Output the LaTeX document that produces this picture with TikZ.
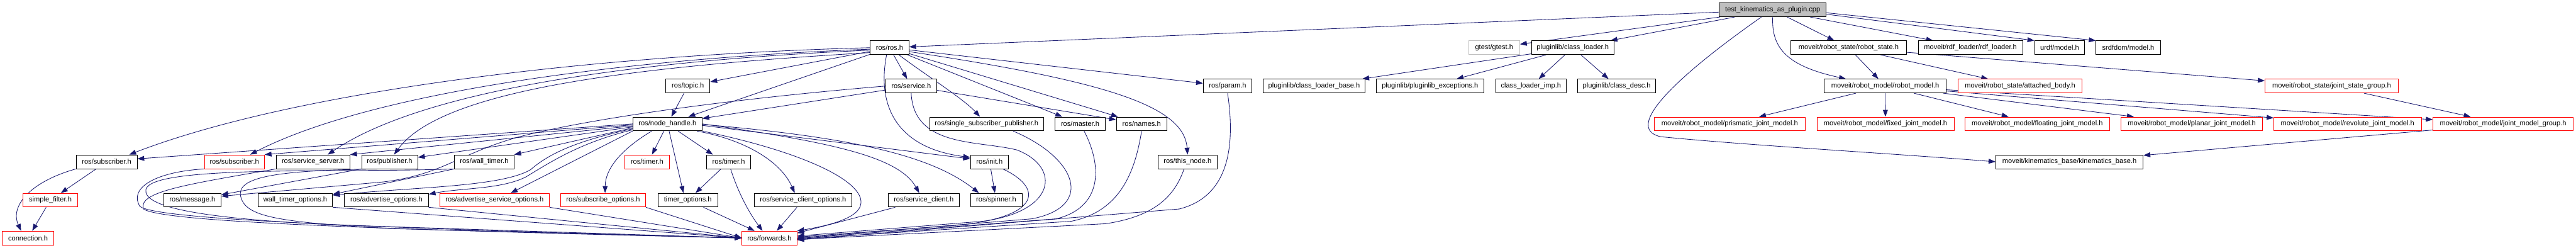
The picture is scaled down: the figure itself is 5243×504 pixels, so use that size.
\documentclass[tikz,border=0pt]{standalone}
\usepackage{fontspec}
\setmainfont{Liberation Sans}
\usepackage{tikz}
\usetikzlibrary{arrows.meta,backgrounds}
\definecolor{edgeblue}{HTML}{191970}
\definecolor{brokenred}{HTML}{FF0000}
\definecolor{rootgrey}{HTML}{BFBFBF}

\begin{document}
\begin{tikzpicture}[x=1pt,y=-1pt,font=\fontsize{14.2}{16}\selectfont,
  hfile/.style={draw=black,line width=1.1pt,fill=white,minimum height=28pt,inner sep=0pt},
  trunc/.style={hfile,draw=brokenred},
  dep/.style={draw=edgeblue,line width=1.1pt,-{Triangle[length=14pt,width=10pt]}}]
\useasboundingbox (0,0) rectangle (5243,504);
\node[hfile,fill=rootgrey,minimum width=218pt] (test) at (3608,20) {test\_kinematics\_as\_plugin.cpp};
\node[hfile,minimum width=79pt] (ros) at (1810.5,97) {ros/ros.h};
\node[hfile,draw=rootgrey,minimum width=104pt] (gtest) at (3041,97) {gtest/gtest.h};
\node[hfile,minimum width=168pt] (classloader) at (3201,97) {pluginlib/class\_loader.h};
\node[hfile,minimum width=235pt] (robotstate) at (3762.5,97) {moveit/robot\_state/robot\_state.h};
\node[hfile,minimum width=213pt] (rdfloader) at (4010.5,97) {moveit/rdf\_loader/rdf\_loader.h};
\node[hfile,minimum width=102pt] (urdf) at (4192,97) {urdf/model.h};
\node[hfile,minimum width=131pt] (srdf) at (4331.5,97) {srdfdom/model.h};
\node[hfile,minimum width=90pt] (topic) at (1400,175) {ros/topic.h};
\node[hfile,minimum width=103pt] (service) at (1854.5,175) {ros/service.h};
\node[hfile,minimum width=99pt] (param) at (2498.5,175) {ros/param.h};
\node[hfile,minimum width=207pt] (clbase) at (2674.5,175) {pluginlib/class\_loader\_base.h};
\node[hfile,minimum width=219pt] (plexc) at (2910.5,175) {pluginlib/pluginlib\_exceptions.h};
\node[hfile,minimum width=144pt] (climp) at (3116,175) {class\_loader\_imp.h};
\node[hfile,minimum width=159pt] (cldesc) at (3290.5,175) {pluginlib/class\_desc.h};
\node[hfile,minimum width=248pt] (robotmodel) at (3837,175) {moveit/robot\_model/robot\_model.h};
\node[trunc,minimum width=253pt] (attached) at (4111.5,175) {moveit/robot\_state/attached\_body.h};
\node[trunc,minimum width=271pt] (jsgroup) at (4745.5,175) {moveit/robot\_state/joint\_state\_group.h};
\node[hfile,minimum width=141pt] (nodehandle) at (1358.5,252) {ros/node\_handle.h};
\node[hfile,minimum width=232pt] (ssp) at (2008,252) {ros/single\_subscriber\_publisher.h};
\node[hfile,minimum width=103pt] (master) at (2198.5,252) {ros/master.h};
\node[hfile,minimum width=103pt] (names) at (2323.5,252) {ros/names.h};
\node[trunc,minimum width=307pt] (prismatic) at (3520.5,252) {moveit/robot\_model/prismatic\_joint\_model.h};
\node[trunc,minimum width=279pt] (fixed) at (3837.5,252) {moveit/robot\_model/fixed\_joint\_model.h};
\node[trunc,minimum width=295pt] (floating) at (4146.5,252) {moveit/robot\_model/floating\_joint\_model.h};
\node[trunc,minimum width=288pt] (planar) at (4461,252) {moveit/robot\_model/planar\_joint\_model.h};
\node[trunc,minimum width=300pt] (revolute) at (4778,252) {moveit/robot\_model/revolute\_joint\_model.h};
\node[trunc,minimum width=285pt] (jmgroup) at (5094.5,252) {moveit/robot\_model/joint\_model\_group.h};
\node[hfile,minimum width=124pt] (subscriberA) at (217,329) {ros/subscriber.h};
\node[trunc,minimum width=122pt] (subscriberB) at (477,329) {ros/subscriber.h};
\node[hfile,minimum width=150pt] (servserver) at (637,329) {ros/service\_server.h};
\node[hfile,minimum width=114pt] (publisher) at (793,329) {ros/publisher.h};
\node[hfile,minimum width=121pt] (walltimer) at (985.5,329) {ros/wall\_timer.h};
\node[trunc,minimum width=92pt] (timerB) at (1317,329) {ros/timer.h};
\node[hfile,minimum width=90pt] (timerA) at (1483,329) {ros/timer.h};
\node[hfile,minimum width=78pt] (init) at (2014,329) {ros/init.h};
\node[hfile,minimum width=120pt] (thisnode) at (2417,329) {ros/this\_node.h};
\node[hfile,minimum width=300pt] (kinbase) at (4212,329) {moveit/kinematics\_base/kinematics\_base.h};
\node[trunc,minimum width=111pt] (simplefilter) at (102.5,407) {simple\_filter.h};
\node[hfile,minimum width=117pt] (message) at (391.5,407) {ros/message.h};
\node[hfile,minimum width=152pt] (wtoptions) at (601,407) {wall\_timer\_options.h};
\node[hfile,minimum width=171pt] (advopts) at (786.5,407) {ros/advertise\_options.h};
\node[trunc,minimum width=223pt] (advsrvopts) at (1006.5,407) {ros/advertise\_service\_options.h};
\node[trunc,minimum width=173pt] (subopts) at (1227.5,407) {ros/subscribe\_options.h};
\node[hfile,minimum width=122pt] (timeropts) at (1400,407) {timer\_options.h};
\node[hfile,minimum width=199pt] (scopts) at (1634.5,407) {ros/service\_client\_options.h};
\node[hfile,minimum width=144pt] (sclient) at (1880,407) {ros/service\_client.h};
\node[hfile,minimum width=105pt] (spinner) at (2027.5,407) {ros/spinner.h};
\node[trunc,minimum width=104pt] (connection) at (57,484) {connection.h};
\node[trunc,minimum width=112pt] (forwards) at (1566,484) {ros/forwards.h};
\begin{scope}[on background layer]
\fill[white] (0,0) rectangle (5243,504);
\draw[dep] (test) -- (ros);
\draw[dep] (test) -- (gtest);
\draw[dep] (test) -- (classloader);
\draw[dep] (test) -- (robotstate);
\draw[dep] (test) -- (rdfloader);
\draw[dep] ([yshift=-9pt]test.east) -- (urdf.north west);
\draw[dep] ([yshift=-6pt]test.east) -- (srdf.north west);
\draw[dep] (test.south) .. controls (3605,100) and (3640,135) .. ([xshift=-80pt]robotmodel.north);
\draw[dep] ([xshift=-23pt]test.south) .. controls (3420,150) and (3300,260) .. (3380,278)
  .. controls (3550,295) and (3850,312) .. (kinbase.west);
\draw[dep] (robotstate) -- (robotmodel);
\draw[dep] (robotstate) -- (attached);
\draw[dep] (robotstate) -- (jsgroup);
\draw[dep] (robotmodel) -- (prismatic);
\draw[dep] (robotmodel) -- (fixed);
\draw[dep] (robotmodel) -- (floating);
\draw[dep] (robotmodel) -- (planar);
\draw[dep] (robotmodel) -- (revolute);
\draw[dep] (robotmodel) -- (jmgroup);
\draw[dep] (jsgroup) -- (jmgroup);
\draw[dep] (jmgroup) -- (kinbase);
\draw[dep] (classloader) -- (clbase);
\draw[dep] (classloader) -- (plexc);
\draw[dep] (classloader) -- (climp);
\draw[dep] (classloader) -- (cldesc);
\draw[dep] (ros) -- (topic);
\draw[dep] (ros) -- (nodehandle);
\draw[dep] (ros) -- (service);
\draw[dep] (ros) .. controls (1880,150) and (1960,200) .. (ssp);
\draw[dep] ([xshift=-6pt]ros.south) .. controls (1785,210) and (1820,300) .. ([yshift=9pt]init.west);
\draw[dep] (ros) -- (master);
\draw[dep] (ros) -- (names);
\draw[dep] ([yshift=-8pt]ros.east) .. controls (2250,165) and (2410,215) .. (thisnode.north);
\draw[dep] (ros) -- (param);
\draw[dep] (ros.west) .. controls (1200,112) and (600,185) .. ([xshift=46pt]subscriberA.north);
\draw[dep] ([yshift=-3pt]ros.west) .. controls (1250,120) and (750,190) .. ([xshift=32pt]subscriberB.north);
\draw[dep] ([yshift=-5pt]ros.west) .. controls (1250,125) and (850,190) .. ([xshift=30pt]servserver.north);
\draw[dep] ([yshift=-10pt]ros.west) .. controls (1300,135) and (900,180) .. ([xshift=9pt]publisher.north);
\draw[dep] (topic) -- (nodehandle);
\draw[dep] (service) -- (nodehandle);
\draw[dep] (service) -- (names);
\draw[dep] (service.west) .. controls (1500,200) and (1200,240) .. (1050,280)
  .. controls (930,315) and (900,355) .. (780,370) -- ([yshift=8pt]message.east);
\draw[dep] (service.south) .. controls (1860,300) and (1990,285) .. (2070,305)
  .. controls (2160,340) and (2150,430) .. (2000,450) -- ([yshift=4pt]forwards.east);
\draw[dep] (nodehandle.west) -- ([yshift=6pt]subscriberA.east);
\draw[dep] ([yshift=-2pt]nodehandle.west) -- (subscriberB.north east);
\draw[dep] ([yshift=-4pt]nodehandle.west) -- (servserver.north east);
\draw[dep] ([yshift=-6pt]nodehandle.west) -- ([yshift=9pt]publisher.east);
\draw[dep] ([yshift=-8pt]nodehandle.west) -- (walltimer.north east);
\draw[dep] ([yshift=-10pt]nodehandle.west) .. controls (1180,285) and (1120,310) .. (1080,345)
  .. controls (1020,380) and (850,380) .. ([yshift=10pt]wtoptions.east);
\draw[dep] ([yshift=-12pt]nodehandle.west) .. controls (1180,290) and (1120,330) .. (1070,360)
  .. controls (1020,385) and (940,382) .. ([yshift=12pt]advopts.east);
\draw[dep] (nodehandle.south west) -- ([xshift=33pt]advsrvopts.north);
\draw[dep] ([xshift=-32pt]nodehandle.south) .. controls (1270,300) and (1232,340) .. ([xshift=4pt]subopts.north);
\draw[dep] (nodehandle) -- ([xshift=10pt]timerB.north);
\draw[dep] (nodehandle) -- ([xshift=-9pt]timeropts.north);
\draw[dep] (nodehandle) -- ([xshift=-32pt]timerA.north);
\draw[dep] ([xshift=60pt]nodehandle.south) .. controls (1520,285) and (1590,330) .. ([xshift=-17pt]scopts.north);
\draw[dep] (nodehandle.south east) .. controls (1640,310) and (1760,370) .. (1752,415)
  .. controls (1748,445) and (1680,460) .. (forwards.north east);
\draw[dep] (nodehandle.east) .. controls (1700,290) and (1830,320) .. ([xshift=-9pt]sclient.north);
\draw[dep] ([yshift=-3pt]nodehandle.east) -- ([yshift=6pt]init.west);
\draw[dep] ([yshift=-1pt]nodehandle.east) .. controls (1750,280) and (1900,320) .. ([xshift=-35pt]spinner.north);
\draw[dep] (subscriberA) -- (simplefilter);
\draw[dep] (subscriberA.south west) .. controls (60,370) and (20,420) .. ([xshift=-14pt]connection.north);
\draw[dep] (simplefilter) -- (connection);
\draw[dep] (publisher.south west) -- ([yshift=11pt]message.east);
\draw[dep] (walltimer.south west) -- ([yshift=12pt]wtoptions.east);
\draw[dep] (subscriberB.south west) .. controls (310,350) and (262,385) .. (285,420)
  .. controls (320,445) and (700,462) .. (forwards.west);
\draw[dep] (servserver.south west) .. controls (380,375) and (280,390) .. (292,425)
  .. controls (330,450) and (700,465) .. (forwards.west);
\draw[dep] (walltimer.south west) .. controls (700,352) and (310,335) .. (297,385)
  .. controls (290,420) and (400,445) .. (700,458) -- (forwards.west);
\draw[dep] (publisher.south) .. controls (560,345) and (480,360) .. (490,400)
  .. controls (500,440) and (560,452) .. (800,465) -- (forwards.west);
\draw[dep] (wtoptions.south east) -- (forwards.west);
\draw[dep] (advopts.south east) -- (forwards.west);
\draw[dep] (advsrvopts.south east) -- (forwards.west);
\draw[dep] (subopts.south east) -- (forwards.west);
\draw[dep] (timeropts) -- ([xshift=-30pt]forwards.north);
\draw[dep] (timerA) -- (timeropts);
\draw[dep] ([xshift=4pt]timerA.south) .. controls (1505,400) and (1530,440) .. ([xshift=-14pt]forwards.north);
\draw[dep] (scopts) -- ([xshift=15pt]forwards.north);
\draw[dep] ([xshift=-58pt]sclient.south) -- ([yshift=10pt]forwards.east);
\draw[dep] (init) -- (spinner);
\draw[dep] ([xshift=27pt]init.south) .. controls (2120,380) and (2125,440) .. (1950,458) -- ([yshift=2pt]forwards.east);
\draw[dep] ([xshift=54pt]ssp.south) .. controls (2190,320) and (2230,420) .. (2100,445) -- (forwards.east);
\draw[dep] ([xshift=8pt]master.south) .. controls (2240,330) and (2250,420) .. (2150,445) -- ([yshift=-1pt]forwards.east);
\draw[dep] (names.south) .. controls (2310,350) and (2280,430) .. (2180,450) -- ([yshift=-2pt]forwards.east);
\draw[dep] ([xshift=-7pt]thisnode.south) .. controls (2390,400) and (2350,440) .. (2250,455) -- ([yshift=-3pt]forwards.east);
\draw[dep] (param.south) .. controls (2515,300) and (2500,400) .. (2400,425) -- ([yshift=-4pt]forwards.east);
\end{scope}
\end{tikzpicture}
\end{document}
